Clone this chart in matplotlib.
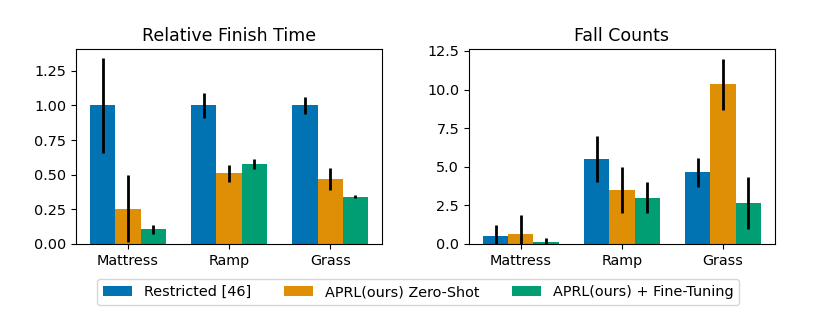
import matplotlib
matplotlib.use("Agg")
import matplotlib.pyplot as plt
import numpy as np

categories = ["Mattress", "Ramp", "Grass"]
methods = ["Restricted [46]", "APRL(ours) Zero-Shot", "APRL(ours) + Fine-Tuning"]
colors = ["#0173b2", "#de8f05", "#029e73"]

time_restricted = [1.0, 1.0, 1.0]
time_restricted_err = [0.34, 0.09, 0.06]
time_zeroshot = [0.255, 0.51, 0.47]
time_zeroshot_err = [0.24, 0.06, 0.08]
time_finetune = [0.105, 0.575, 0.34]
time_finetune_err = [0.035, 0.035, 0.01]

falls_restricted = [0.5, 5.5, 4.65]
falls_restricted_err = [0.75, 1.5, 0.95]
falls_zeroshot = [0.65, 3.5, 10.33]
falls_zeroshot_err = [1.2, 1.5, 1.67]
falls_finetune = [0.1, 3.0, 2.67]
falls_finetune_err = [0.3, 1.0, 1.67]

plt.rcParams['font.size'] = 10.4

fig = plt.figure(figsize=(8.3, 3.12), dpi=100)
ax1 = fig.add_axes([0.0916, 0.218, 0.3687, 0.625])
ax2 = fig.add_axes([0.565, 0.218, 0.3687, 0.625])

x = np.arange(len(categories))
w = 0.25

def draw(ax, vals, errs, title):
    handles = []
    for i, (v, e) in enumerate(zip(vals, errs)):
        h = ax.bar(x + (i - 1) * w, v, w, yerr=e, color=colors[i],
                   error_kw=dict(elinewidth=2, ecolor="black", capsize=0),
                   label=methods[i])
        handles.append(h)
    ax.set_xticks(x)
    ax.set_xticklabels(categories)
    ax.set_title(title, fontsize=12.5)
    ax.set_ylim(bottom=0)
    return handles

handles = draw(ax1, [time_restricted, time_zeroshot, time_finetune],
               [time_restricted_err, time_zeroshot_err, time_finetune_err],
               "Relative Finish Time")
ax1.set_yticks([0, 0.25, 0.5, 0.75, 1.0, 1.25])
draw(ax2, [falls_restricted, falls_zeroshot, falls_finetune],
     [falls_restricted_err, falls_zeroshot_err, falls_finetune_err],
     "Fall Counts")
ax2.set_yticks([0, 2.5, 5, 7.5, 10, 12.5])

fig.legend(handles, methods, loc="center", ncol=3, bbox_to_anchor=(0.504, 0.064),
           fontsize=10.4, handlelength=2.0, columnspacing=2.3)

fig.savefig("out.png", dpi=100)
